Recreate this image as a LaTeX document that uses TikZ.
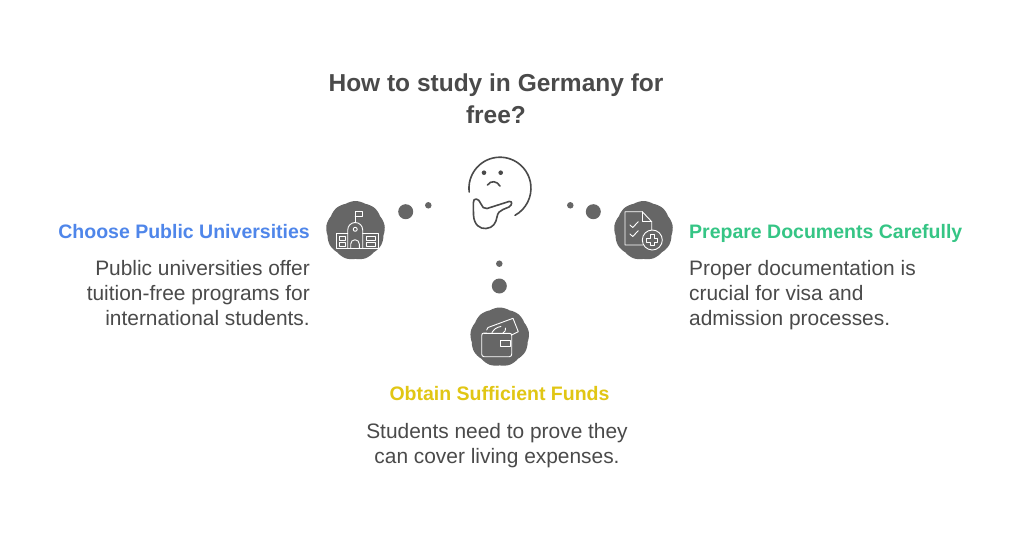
\documentclass[tikz,border=0pt]{standalone}
\usepackage{fontspec}
\setmainfont{Liberation Sans}
\usetikzlibrary{shapes.symbols}

\definecolor{inkgray}{HTML}{4A4A4A}
\definecolor{blobgray}{HTML}{666666}
\definecolor{titleblue}{HTML}{4F86EA}
\definecolor{titlegreen}{HTML}{35C585}
\definecolor{titleyellow}{HTML}{E1C614}

\begin{document}
\begin{tikzpicture}[
    x=1pt, y=-1pt,
    main title/.style={font=\fontsize{24.5}{32}\selectfont\bfseries, text=inkgray, align=center, inner sep=0pt},
    item title/.style={font=\fontsize{19.5}{25}\selectfont\bfseries, inner sep=0pt},
    item text/.style={font=\fontsize{20.9}{25}\selectfont, text=inkgray, inner sep=0pt},
    big dot/.style={circle, fill=blobgray, minimum size=15pt, inner sep=0pt},
    small dot/.style={circle, fill=blobgray, minimum size=6.5pt, inner sep=0pt},
    blob/.style={cloud, cloud puffs=9, cloud puff arc=65, aspect=1, fill=blobgray, minimum width=59pt, minimum height=59pt, inner sep=0pt},
    icon line/.style={draw=white, line width=0.9pt, line join=round, line cap=round},
    face line/.style={draw=inkgray, line width=1.6pt, line cap=round, line join=round}
]
\useasboundingbox[fill=white] (0,0) rectangle (1024,536);

% Title
\node[main title] (title) at (496,99) {How to study in Germany for\\free?};

% Thinking face
\draw[face line] (469.2,192) arc[start angle=173, end angle=421, radius=31];
\fill[inkgray] (484,172.7) circle (2.3) (500.7,172.7) circle (2.3);
\draw[face line] (487.5,185) .. controls (491,180) and (497,181) .. (500,186);
\draw[face line] (509,201.5) -- (487,208.5) .. controls (484,209) and (482,207) .. (481,204)
    .. controls (479,198) and (473,197) .. (473.3,203) -- (473.5,215)
    .. controls (474,225) and (480,229) .. (486,228.5)
    .. controls (493,228) and (496,223) .. (497,217) .. controls (497.5,213) and (500,210.5) .. (503,209.5)
    -- (509,207) .. controls (512.5,205) and (512.5,200.5) .. (509,201.5);

% Left item
\node[big dot] (left big) at (405.7,211.7) {};
\node[small dot] (left small) at (428.3,205.3) {};
\node[blob] (left blob) at (355.5,230.5) {};
\draw[icon line] (347.7,233.3) -- (336.7,233.3) -- (336.7,248.3) -- (378.3,248.3) -- (378.3,233.3) -- (362.7,233.3);
\draw[icon line] (347.7,248.3) -- (347.7,230) arc[start angle=180, end angle=360, radius=7.5] -- (362.7,248.3);
\draw[icon line] (355.2,229.3) circle (2);
\draw[icon line] (350.7,248.3) -- (350.7,244) arc[start angle=180, end angle=360, radius=4.3] -- (359.3,248.3);
\draw[icon line] (355.2,222.5) -- (355.2,211.7) -- (362,211.7) -- (362,216.7) -- (355.2,216.7);
\draw[icon line] (339.5,236) rectangle (345.5,240) (339.5,242.5) rectangle (345.5,246);
\draw[icon line] (366,236) rectangle (375,240) (366,242.5) rectangle (375,246);
\node[item title, text=titleblue, anchor=base east] (left title) at (310,238) {Choose Public Universities};
\node[item text, anchor=north east, align=right] (left text) at (310,260.5) {Public universities offer\\tuition-free programs for\\international students.};

% Right item
\node[big dot] (right big) at (593.3,211.7) {};
\node[small dot] (right small) at (570.3,205.3) {};
\node[blob] (right blob) at (643.5,230.5) {};
\draw[icon line] (643,245) -- (625,245) -- (625,211.7) -- (642.3,211.7) -- (651.7,221.7) -- (651.7,230);
\draw[icon line] (642.3,211.7) -- (642.3,221.7) -- (651.7,221.7);
\draw[icon line] (630,225) -- (632.7,227.5) -- (638.3,221.7);
\draw[icon line] (630,234) -- (632.7,236.5) -- (638.3,230.7);
\draw[icon line] (652.3,240) circle (10);
\draw[icon line] (650.3,234.5) -- (654.3,234.5) -- (654.3,238) -- (657.8,238) -- (657.8,242) -- (654.3,242)
    -- (654.3,245.5) -- (650.3,245.5) -- (650.3,242) -- (646.8,242) -- (646.8,238) -- (650.3,238) -- cycle;
\node[item title, text=titlegreen, anchor=base west] (right title) at (689,238) {Prepare Documents Carefully};
\node[item text, anchor=north west, align=left] (right text) at (689,260.5) {Proper documentation is\\crucial for visa and\\admission processes.};

% Bottom item
\node[small dot] (bottom small) at (499.3,263.7) {};
\node[big dot] (bottom big) at (499.3,286) {};
\node[blob] (bottom blob) at (499.7,337) {};
\draw[icon line] (486.7,333) -- (484,333) .. controls (482.5,333) and (481.7,334) .. (481.7,335.5) -- (481.7,354)
    .. controls (481.7,355.5) and (482.5,356.7) .. (484,356.7) -- (509.5,356.7)
    .. controls (511,356.7) and (511.7,355.5) .. (511.7,354) -- (511.7,335.5)
    .. controls (511.7,334) and (511,333.3) .. (509.5,333.3) -- (484,333.3);
\draw[icon line] (500.5,340.5) rectangle (510,346.5);
\draw[icon line] (486.7,330) -- (488,327.5) -- (513,318.3) -- (518.3,331.7) -- (511.7,335);
\draw[icon line] (492,332.5) .. controls (494,329) and (497,327) .. (501,326.5)
    (503,333) .. controls (505,331.5) and (506,330) .. (505.5,328);
\node[item title, text=titleyellow, anchor=base] (bottom title) at (499.5,400) {Obtain Sufficient Funds};
\node[item text, anchor=north, align=center] (bottom text) at (497,423) {Students need to prove they\\can cover living expenses.};

\end{tikzpicture}
\end{document}
